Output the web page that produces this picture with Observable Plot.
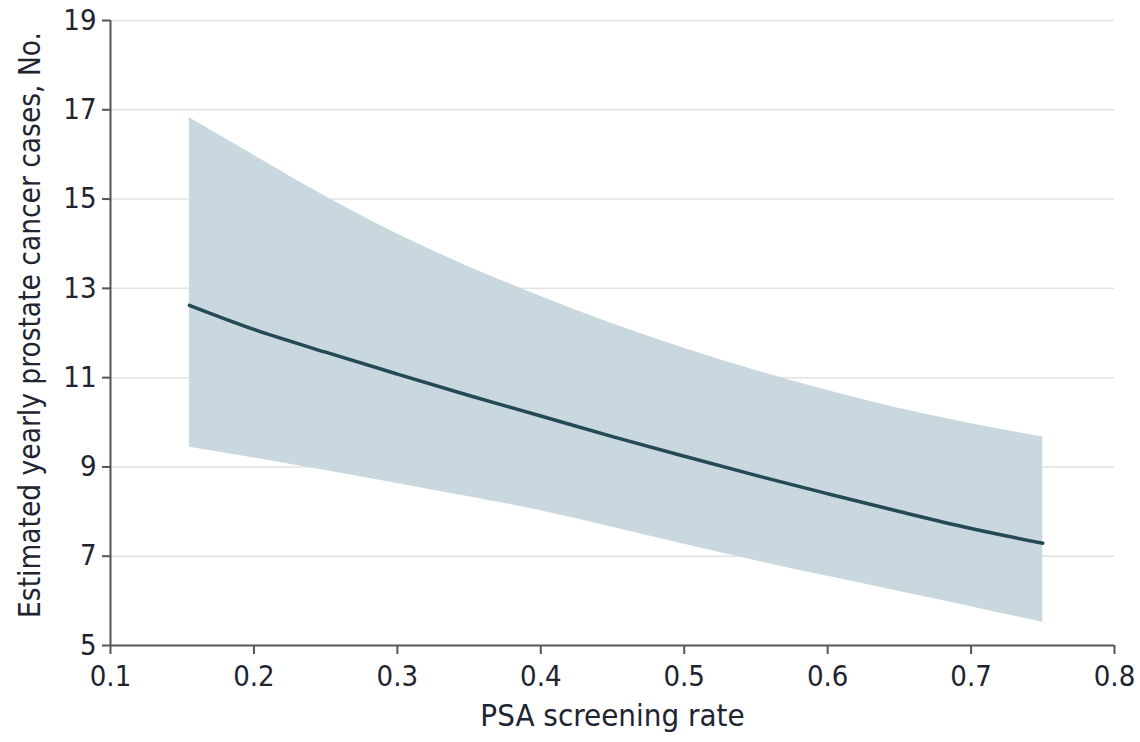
<!DOCTYPE html>
<html>
<head>
<meta charset="utf-8">
<script src="https://cdn.jsdelivr.net/npm/d3@7"></script>
<script src="https://cdn.jsdelivr.net/npm/@observablehq/plot@0.6"></script>
<style>
  html, body { margin: 0; padding: 0; background: #fff; }
  #chart svg { display: block; font-stretch: condensed; }
</style>
</head>
<body>
<div id="chart"></div>
<script>
// PSA screening rate (x)
const screeningRate = [0.155, 0.2, 0.25, 0.3, 0.35, 0.4, 0.45, 0.5, 0.55, 0.6, 0.65, 0.7, 0.75];
// Estimated yearly prostate cancer cases
const estimate = [12.62, 12.08, 11.57, 11.08, 10.6, 10.14, 9.68, 9.24, 8.81, 8.4, 8.0, 7.62, 7.29];
const upper    = [16.82, 15.98, 15.06, 14.22, 13.48, 12.82, 12.21, 11.66, 11.16, 10.71, 10.31, 9.97, 9.67];
const lower    = [9.44, 9.2, 8.92, 8.63, 8.33, 8.02, 7.65, 7.27, 6.9, 6.55, 6.21, 5.87, 5.52];
const xTicks = [0.1, 0.2, 0.3, 0.4, 0.5, 0.6, 0.7, 0.8];
const yTicks = [5, 7, 9, 11, 13, 15, 17, 19];
const xTitle = "PSA screening rate";
const yTitle = "Estimated yearly prostate cancer cases, No.";

const data = screeningRate.map((x, i) => ({x, y: estimate[i], lo: lower[i], hi: upper[i]}));

const font = "'DejaVu Sans Condensed', 'Liberation Sans Narrow', 'DejaVu Sans', sans-serif";

const chart = Plot.plot({
  width: 1140,
  height: 742,
  marginLeft: 110,
  marginRight: 26,
  marginTop: 20,
  marginBottom: 97,
  style: {fontFamily: font, fontSize: "29px", color: "#1e2430", background: "#fff"},
  x: {domain: [0.1, 0.8]},
  y: {domain: [5, 19]},
  marks: [
    Plot.gridY(yTicks.slice(1), {stroke: "#e2e2e2", strokeOpacity: 1, strokeWidth: 1.5}),
    Plot.areaY(data, {x: "x", y1: "lo", y2: "hi", fill: "#c9d7df", curve: "monotone-x"}),
    Plot.lineY(data, {x: "x", y: "y", stroke: "#244a55", strokeWidth: 3.5, curve: "monotone-x"}),
    Plot.ruleX([0.1], {stroke: "#555", strokeWidth: 2}),
    Plot.ruleY([5], {stroke: "#555", strokeWidth: 2}),
    Plot.axisX({ticks: xTicks, tickSize: 9, tickPadding: 11, stroke: "#555", strokeWidth: 2, label: null, tickFormat: d => d.toFixed(1)}),
    Plot.axisY({ticks: yTicks, tickSize: 8, tickPadding: 6, stroke: "#555", strokeWidth: 2, label: null}),
    Plot.text([xTitle], {frameAnchor: "bottom", dy: 80, text: d => d, fontSize: 31, fill: "#1e2430"}),
    Plot.text([yTitle], {frameAnchor: "left", textAnchor: "middle", dx: -80, dy: -8, rotate: -90, text: d => d, fontSize: 29.5, fill: "#1e2430"})
  ]
});
document.getElementById("chart").appendChild(chart);
</script>
</body>
</html>
